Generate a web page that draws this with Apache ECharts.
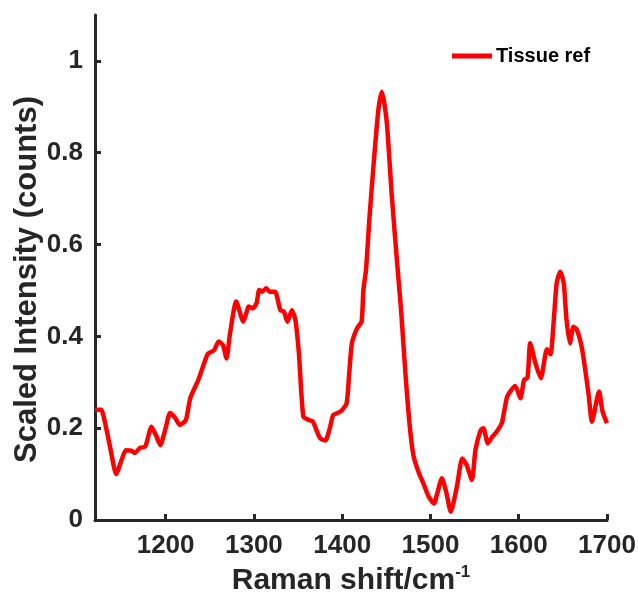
<!DOCTYPE html>
<html>
<head>
<meta charset="utf-8">
<script src="https://cdn.jsdelivr.net/npm/echarts@6/dist/echarts.min.js"></script>
<style>
  html, body { margin: 0; padding: 0; background: #fff; }
  #chart { width: 638px; height: 603px; }
</style>
</head>
<body>
<div id="chart"></div>
<script>
const ramanShift = [
    1120, 1127, 1131, 1137, 1144, 1150, 1155, 1161, 1165, 1171, 1177, 1184, 1189, 1194,
    1200, 1205, 1211, 1216, 1222, 1224, 1228, 1237, 1245, 1248, 1255, 1260, 1265, 1269,
    1273, 1280, 1288, 1292, 1294, 1299, 1303, 1306, 1309, 1314, 1318, 1324, 1330, 1334,
    1338, 1343, 1347, 1351, 1356, 1362, 1367, 1371, 1375, 1381, 1386, 1390, 1398, 1405,
    1408, 1411, 1417, 1422, 1424, 1427, 1431, 1436, 1441, 1445, 1448, 1451, 1456, 1461,
    1464, 1467, 1472, 1477, 1481, 1487, 1492, 1498, 1504, 1508, 1513, 1518, 1523, 1530,
    1536, 1541, 1547, 1551, 1557, 1560, 1565, 1570, 1575, 1581, 1587, 1596, 1602, 1606,
    1610, 1613, 1619, 1625, 1632, 1636, 1640, 1643, 1647, 1651, 1654, 1658, 1662, 1666,
    1672, 1679, 1683, 1691, 1695, 1700
];
const tissueRef = [
    0.240, 0.240, 0.215, 0.160, 0.100, 0.130, 0.152, 0.151, 0.146, 0.157, 0.160, 0.203, 0.185, 0.163,
    0.200, 0.233, 0.222, 0.207, 0.215, 0.225, 0.266, 0.305, 0.349, 0.362, 0.370, 0.389, 0.381, 0.352,
    0.407, 0.476, 0.432, 0.454, 0.465, 0.461, 0.472, 0.501, 0.497, 0.505, 0.497, 0.497, 0.457, 0.454,
    0.432, 0.457, 0.436, 0.363, 0.225, 0.218, 0.214, 0.195, 0.178, 0.173, 0.200, 0.229, 0.236, 0.254,
    0.320, 0.385, 0.418, 0.432, 0.500, 0.545, 0.660, 0.784, 0.893, 0.933, 0.905, 0.857, 0.712, 0.590,
    0.520, 0.450, 0.310, 0.196, 0.138, 0.102, 0.080, 0.051, 0.036, 0.060, 0.091, 0.060, 0.018, 0.073,
    0.134, 0.120, 0.087, 0.153, 0.196, 0.200, 0.167, 0.181, 0.192, 0.212, 0.269, 0.292, 0.265, 0.305,
    0.310, 0.385, 0.341, 0.309, 0.372, 0.361, 0.443, 0.516, 0.541, 0.516, 0.439, 0.385, 0.421, 0.414,
    0.370, 0.276, 0.214, 0.280, 0.236, 0.211
];
const xTicks = [1200, 1300, 1400, 1500, 1600, 1700];
const yTicks = [0, 0.2, 0.4, 0.6, 0.8, 1];

const font = "'Liberation Sans', Arial, sans-serif";
const axisColor = '#262626';

const chart = echarts.init(document.getElementById('chart'));
chart.setOption({
    animation: false,
    grid: { left: 95, right: 31, top: 15, bottom: 83, outerBoundsMode: 'none' },
    legend: {
        data: ['Tissue ref'],
        left: 447,
        top: 41,
        icon: 'rect',
        itemWidth: 40,
        itemHeight: 5,
        itemGap: 5,
        textStyle: { fontFamily: font, fontWeight: 'bold', fontSize: 20, color: '#000', padding: [0, 0, 0, -1] }
    },
    xAxis: {
        type: 'value',
        min: 1120,
        max: 1700,
        name: 'Raman shift/cm{sup|-1}',
        nameLocation: 'middle',
        nameGap: 44,
        nameMoveOverlap: false,
        nameTextStyle: {
            fontFamily: font, fontWeight: 'bold', fontSize: 30, color: axisColor,
            rich: { sup: { fontFamily: font, fontWeight: 'bold', fontSize: 17, color: axisColor, verticalAlign: 'top', padding: [0, 0, 16, 0] } }
        },
        splitLine: { show: false },
        axisLine: { lineStyle: { color: axisColor, width: 3 } },
        axisTick: { inside: true, length: 6, lineStyle: { width: 3, color: axisColor }, customValues: xTicks },
        axisLabel: {
            customValues: xTicks, margin: 13, fontFamily: font, fontWeight: 'bold', fontSize: 26, color: axisColor,
            formatter: v => String(v)
        }
    },
    yAxis: {
        type: 'value',
        min: 0,
        max: 1.1,
        name: 'Scaled Intensity (counts)',
        nameLocation: 'middle',
        nameGap: 52,
        nameMoveOverlap: false,
        nameTextStyle: { fontFamily: font, fontWeight: 'bold', fontSize: 31, color: axisColor, padding: [0, 24, 0, 0] },
        splitLine: { show: false },
        axisLine: { show: true, lineStyle: { color: axisColor, width: 3 } },
        axisTick: { show: true, inside: true, length: 6, lineStyle: { width: 3, color: axisColor }, customValues: yTicks },
        axisLabel: { customValues: yTicks, margin: 12, fontFamily: font, fontWeight: 'bold', fontSize: 26, color: axisColor }
    },
    series: [
        {
            name: 'Tissue ref',
            type: 'line',
            data: ramanShift.map((x, i) => [x, tissueRef[i]]),
            showSymbol: false,
            smooth: 0.2,
            color: '#ff0000',
            lineStyle: { width: 4.5, color: '#ff0000' }
        }
    ]
});
</script>
</body>
</html>
